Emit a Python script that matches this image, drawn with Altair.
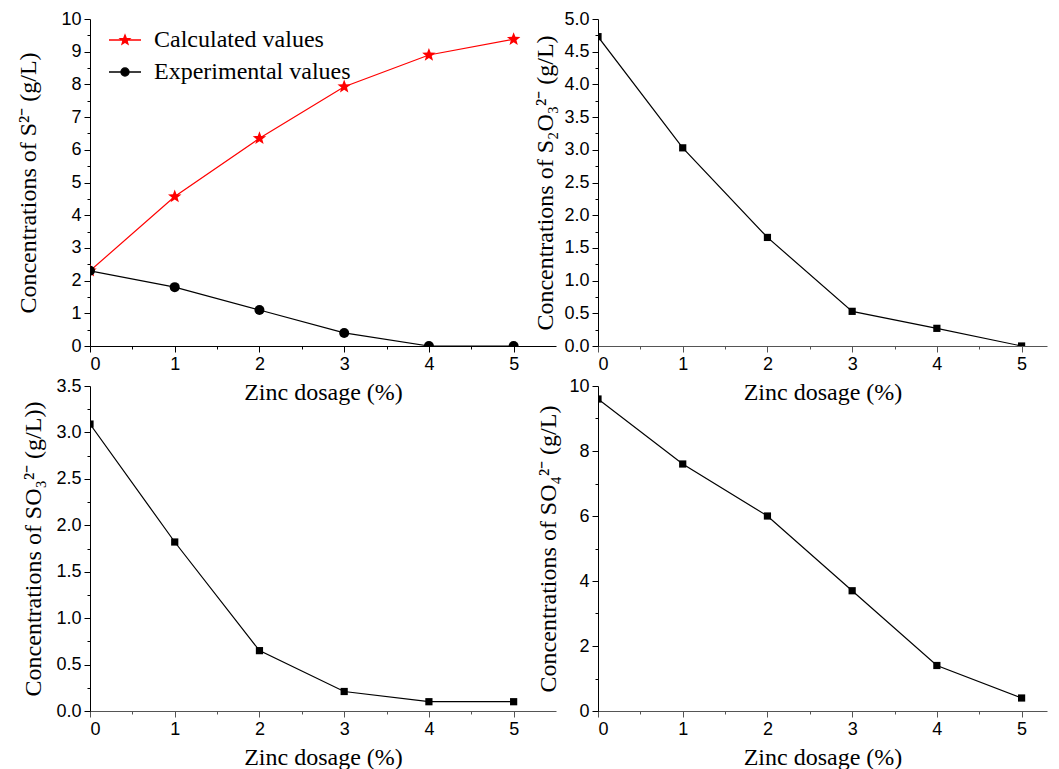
import math
import altair as alt
import pandas as pd

# ---------------- data ----------------
dosage = [0, 1, 2, 3, 4, 5]
s2_calculated = [2.3, 4.57, 6.35, 7.93, 8.9, 9.38]
s2_experimental = [2.3, 1.8, 1.1, 0.4, 0.0, 0.0]
s2o3_values = [4.73, 3.03, 1.66, 0.53, 0.27, 0.0]
so3_values = [3.09, 1.82, 0.65, 0.21, 0.1, 0.1]
so4_values = [9.6, 7.6, 6.0, 3.7, 1.4, 0.4]
series_names = ["Calculated values", "Experimental values"]

x_title = "Zinc dosage (%)"
y_titles = [
    "Concentrations of S²⁻ (g/L)",
    "Concentrations of S₂O₃²⁻ (g/L)",
    "Concentrations of SO₃²⁻ (g/L))",
    "Concentrations of SO₄²⁻ (g/L)",
]

x_ticks = [0, 0.5, 1, 1.5, 2, 2.5, 3, 3.5, 4, 4.5, 5]
y1_ticks = [0, 0.5, 1, 1.5, 2, 2.5, 3, 3.5, 4, 4.5, 5, 5.5, 6, 6.5, 7, 7.5, 8, 8.5, 9, 9.5, 10]
y2_ticks = [0, 0.25, 0.5, 0.75, 1, 1.25, 1.5, 1.75, 2, 2.25, 2.5, 2.75, 3, 3.25, 3.5, 3.75, 4, 4.25, 4.5, 4.75, 5]
y3_ticks = [0, 0.25, 0.5, 0.75, 1, 1.25, 1.5, 1.75, 2, 2.25, 2.5, 2.75, 3, 3.25, 3.5]
y4_ticks = [0, 1, 2, 3, 4, 5, 6, 7, 8, 9, 10]

SERIF = "Liberation Serif"
SANS = "Liberation Sans"

# ---------------- symbol paths ----------------
def star_path(inner=0.42):
    pts = []
    for k in range(10):
        ang = -math.pi / 2 + k * math.pi / 5
        r = 1.0 if k % 2 == 0 else inner
        pts.append(f"{r * math.cos(ang):.3f},{r * math.sin(ang):.3f}")
    return "M" + "L".join(pts) + "Z"

STAR = star_path()
CIRCLE_LEG = "M-0.81,0A0.81,0.81 0 1,0 0.81,0A0.81,0.81 0 1,0 -0.81,0Z"
LEG_LINE = "M-3.2,0L3.2,0"


def major_test(step):
    return f"abs(datum.value/{step} - round(datum.value/{step})) < 0.001"


def x_axis(color):
    t = major_test(1)
    return alt.Axis(
        title=x_title, values=x_ticks, grid=False,
        labelExpr=f"{t} ? format(datum.value, 'd') : ''",
        tickSize={"condition": {"test": t, "value": 6}, "value": 3},
        domainColor=color, tickColor=color, labelOverlap=False,
        labelFont=SANS, labelFontSize=18, labelColor="black", labelPadding=3,
        titleFont=SERIF, titleFontSize=24, titleFontWeight="normal",
        titleColor="black", titlePadding=7,
    )


def y_axis(title, values, step, fmt, title_pad):
    t = major_test(step)
    return alt.Axis(
        title=title, values=values, grid=False,
        labelExpr=f"{t} ? format(datum.value, '{fmt}') : ''",
        tickSize={"condition": {"test": t, "value": 6}, "value": 3},
        domainColor="black", tickColor="black", labelOverlap=False,
        labelFont=SANS, labelFontSize=18, labelColor="black", labelPadding=3,
        titleFont=SERIF, titleFontSize=24, titleFontWeight="normal",
        titleColor="black", titlePadding=title_pad,
    )


def enc_x(domain, color):
    return alt.X("dosage:Q", scale=alt.Scale(domain=domain, nice=False, zero=False),
                 axis=x_axis(color))


def enc_y(field, domain, values, step, fmt, title, title_pad):
    return alt.Y(f"{field}:Q", scale=alt.Scale(domain=domain, nice=False, zero=False),
                 axis=y_axis(title, values, step, fmt, title_pad))


LEFT_W, RIGHT_W = 466, 449
TOP_H, BOT_H = 327, 325
LEFT_DOM, RIGHT_DOM = [0, 5.5], [0, 5.3]

# ---------------- panel 1 ----------------
df1 = pd.DataFrame({"dosage": dosage, "calc": s2_calculated, "exp": s2_experimental})
x1 = enc_x(LEFT_DOM, "black")
y1c = enc_y("calc", [0, 10], y1_ticks, 1, "d", y_titles[0], 20)
y1e = enc_y("exp", [0, 10], y1_ticks, 1, "d", y_titles[0], 20)
base1 = alt.Chart(df1)
red_line = base1.mark_line(color="red", strokeWidth=1.2, clip=True).encode(x=x1, y=y1c)
black_line = base1.mark_line(color="black", strokeWidth=1.2, clip=True).encode(x=x1, y=y1e)
stars = base1.mark_point(shape=STAR, filled=True, color="red", size=200, opacity=1,
                         clip=True).encode(x=x1, y=y1c)
dots = base1.mark_point(shape="circle", filled=True, color="black", size=100, opacity=1,
                        clip=True).encode(x=x1, y=y1e)

leg_df = pd.DataFrame({"series": series_names})
leg_def = alt.Legend(
    title=None, orient="none", legendX=23, legendY=9, padding=0,
    labelFont=SERIF, labelFontSize=24, labelColor="black", labelOffset=17,
    rowPadding=8, symbolStrokeWidth=1.3, symbolOpacity=1, labelLimit=400,
)
legend_layer = alt.Chart(leg_df).mark_point(filled=True, size=190, opacity=1).encode(
    shape=alt.Shape("series:N", scale=alt.Scale(domain=series_names,
                                                range=[STAR + LEG_LINE, CIRCLE_LEG + LEG_LINE]),
                    legend=leg_def),
    fill=alt.Fill("series:N", scale=alt.Scale(domain=series_names, range=["red", "black"]),
                  legend=leg_def),
    stroke=alt.Stroke("series:N", scale=alt.Scale(domain=series_names, range=["red", "black"]),
                      legend=leg_def),
).transform_filter("false")

p1 = alt.layer(red_line, black_line, stars, dots, legend_layer).properties(
    width=LEFT_W, height=TOP_H)


# ---------------- panels 2-4 ----------------
def simple_panel(values, ydom, yvals, step, fmt, title, title_pad, xdom, w, h, xcolor):
    df = pd.DataFrame({"dosage": dosage, "value": values})
    x = enc_x(xdom, xcolor)
    y = enc_y("value", ydom, yvals, step, fmt, title, title_pad)
    b = alt.Chart(df)
    line = b.mark_line(color="black", strokeWidth=1.2, clip=True).encode(x=x, y=y)
    pts = b.mark_point(shape="square", filled=True, color="black", size=52, opacity=1,
                       clip=True).encode(x=x, y=y)
    return alt.layer(line, pts).properties(width=w, height=h)


p2 = simple_panel(s2o3_values, [0, 5], y2_ticks, 0.5, ".1f", y_titles[1], 6,
                  RIGHT_DOM, RIGHT_W, TOP_H, "#555")
p3 = simple_panel(so3_values, [0, 3.5], y3_ticks, 0.5, ".1f", y_titles[2], 10,
                  LEFT_DOM, LEFT_W, BOT_H, "#555")
p4 = simple_panel(so4_values, [0, 10], y4_ticks, 2, "d", y_titles[3], 8,
                  RIGHT_DOM, RIGHT_W, BOT_H, "#555")

chart = alt.concat(p1, p2, p3, p4, columns=2, spacing={"row": 40, "column": 42},
                   bounds="flush").properties(
    padding={"left": 8, "top": 2, "right": 2, "bottom": 0},
    background="white",
).configure_view(stroke=None)

chart.save("out.html", embed_options={"renderer": "svg", "actions": False})
